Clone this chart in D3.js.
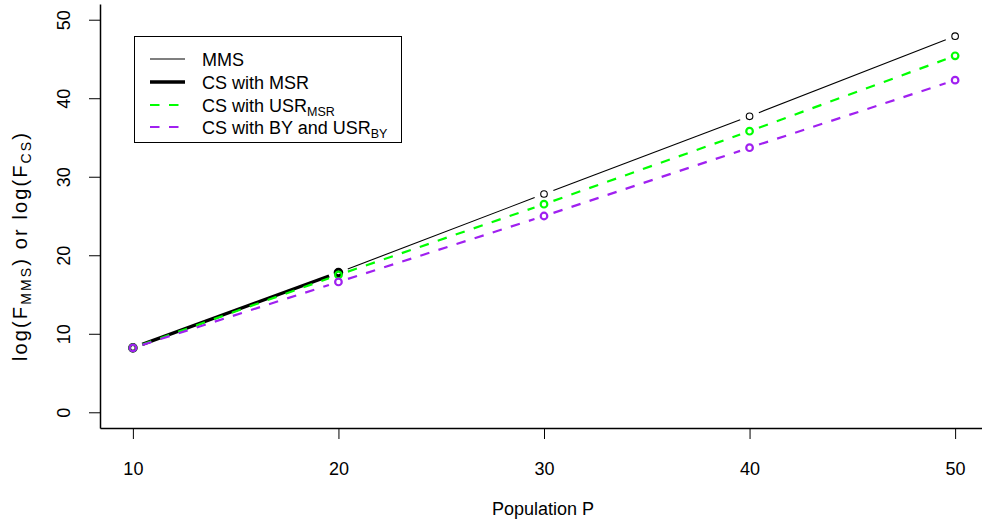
<!DOCTYPE html>
<html>
<head>
<meta charset="utf-8">
<script src="https://cdnjs.cloudflare.com/ajax/libs/d3/7.8.5/d3.min.js"></script>
<style>
  html, body { margin: 0; padding: 0; background: #fff; }
  svg { display: block; font-family: "Liberation Sans", Arial, sans-serif; }
</style>
</head>
<body>
<svg id="chart" width="982" height="527"></svg>
<script>
// ---- data ----
const population = [10, 20, 30, 40, 50];
const mmsValues = [8.2, 17.8, 27.8, 37.7, 47.9];
const msrPopulation = [10, 20];
const msrValues = [8.2, 17.8];
const usrMsrValues = [8.2, 17.5, 26.5, 35.8, 45.4];
const byUsrValues = [8.2, 16.6, 25.0, 33.7, 42.3];
const xTicks = [10, 20, 30, 40, 50];
const yTicks = [0, 10, 20, 30, 40, 50];

const svg = d3.select("#chart");
const x = d3.scaleLinear().domain([8.4, 51.6]).range([100, 988]);
const y = d3.scaleLinear().domain([-2, 52]).range([428, 4]);

// axes
const yAxis = svg.append("g").attr("transform", "translate(100,0)")
  .call(d3.axisLeft(y).tickValues(yTicks).tickSize(11).tickSizeOuter(0));
yAxis.select(".domain").attr("stroke", "#000").attr("stroke-width", 1.5);
yAxis.selectAll(".tick line").attr("stroke", "#000").attr("stroke-width", 1);
yAxis.selectAll(".tick text")
  .attr("x", null).attr("dy", null)
  .attr("transform", "translate(-30,0) rotate(-90)")
  .attr("text-anchor", "middle")
  .attr("font-size", 18).attr("font-family", "Liberation Sans, Arial, sans-serif")
  .attr("fill", "#000");

const xAxis = svg.append("g").attr("transform", "translate(0,428)")
  .call(d3.axisBottom(x).tickValues(xTicks).tickSize(11).tickSizeOuter(0));
xAxis.select(".domain").attr("stroke", "#000").attr("stroke-width", 1.5);
xAxis.selectAll(".tick line").attr("stroke", "#000").attr("stroke-width", 1);
xAxis.selectAll(".tick text")
  .attr("y", 47).attr("dy", null)
  .attr("font-size", 18).attr("font-family", "Liberation Sans, Arial, sans-serif")
  .attr("fill", "#000");

// axis titles
svg.append("text").attr("x", 543).attr("y", 515)
  .attr("text-anchor", "middle").attr("font-size", 18).attr("fill", "#000")
  .text("Population P");

const yt = svg.append("text")
  .attr("transform", "translate(27,247) rotate(-90)")
  .attr("text-anchor", "middle").attr("font-size", 20).attr("fill", "#000")
  .attr("textLength", 228).attr("lengthAdjust", "spacing");
yt.append("tspan").text("log(F");
yt.append("tspan").attr("font-size", 14).attr("dy", 4).text("MMS");
yt.append("tspan").attr("dy", -4).text(") or log(F");
yt.append("tspan").attr("font-size", 14).attr("dy", 4).text("CS");
yt.append("tspan").attr("dy", -4).text(")");

// series drawn as R type="b"
const GAP = 10;
function drawSeries(xs, ys, color, lw, dash, circleW) {
  const g = svg.append("g");
  const pts = xs.map((p, i) => [x(p), y(ys[i])]);
  for (let i = 0; i < pts.length - 1; i++) {
    const [x0, y0] = pts[i], [x1, y1] = pts[i + 1];
    const dx = x1 - x0, dy = y1 - y0, L = Math.hypot(dx, dy);
    if (L <= 2 * GAP) continue;
    const ux = dx / L, uy = dy / L;
    g.append("line")
      .attr("x1", x0 + ux * GAP).attr("y1", y0 + uy * GAP)
      .attr("x2", x1 - ux * GAP).attr("y2", y1 - uy * GAP)
      .attr("stroke", color).attr("stroke-width", lw)
      .attr("stroke-dasharray", dash || null);
  }
  g.selectAll("circle").data(pts).join("circle")
    .attr("cx", d => d[0]).attr("cy", d => d[1]).attr("r", 3.3)
    .attr("fill", "none").attr("stroke", color).attr("stroke-width", circleW);
}
drawSeries(population, mmsValues, "#000", 1.1, null, 1.1);
drawSeries(msrPopulation, msrValues, "#000", 3.4, null, 3.0);
drawSeries(population, usrMsrValues, "#00ff00", 2.2, "9.5,9.5", 2.2);
drawSeries(population, byUsrValues, "#a020f0", 2.2, "9.5,9.5", 2.2);

// legend
const legend = svg.append("g");
legend.append("rect").attr("x", 134.5).attr("y", 36.5).attr("width", 267).attr("height", 106)
  .attr("fill", "none").attr("stroke", "#000").attr("stroke-width", 1);
const legItems = [
  { color: "#000", lw: 1.1, dash: null },
  { color: "#000", lw: 3.4, dash: null },
  { color: "#00ff00", lw: 2.2, dash: "9.5,9.5" },
  { color: "#a020f0", lw: 2.2, dash: "9.5,9.5" }
];
const legLabels = [["MMS", ""], ["CS with MSR", ""], ["CS with USR", "MSR"], ["CS with BY and USR", "BY"]];
const rowY = [59, 82, 105, 127];
legItems.forEach((it, i) => {
  legend.append("line").attr("x1", 150).attr("x2", 185)
    .attr("y1", rowY[i]).attr("y2", rowY[i])
    .attr("stroke", it.color).attr("stroke-width", it.lw)
    .attr("stroke-dasharray", it.dash);
  const t = legend.append("text").attr("x", 202).attr("y", rowY[i] + 7)
    .attr("font-size", 18).attr("fill", "#000");
  t.append("tspan").text(legLabels[i][0]);
  if (legLabels[i][1]) {
    t.append("tspan").attr("font-size", 12.5).attr("dy", 4).text(legLabels[i][1]);
  }
});
</script>
</body>
</html>
